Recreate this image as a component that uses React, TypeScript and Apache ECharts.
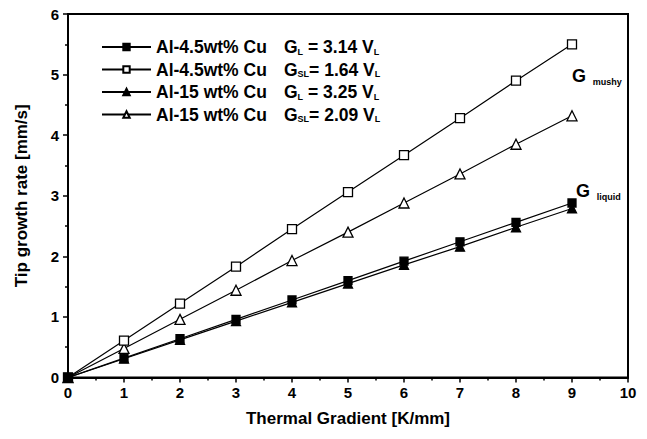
import React, { useEffect, useRef } from "react";
import * as echarts from "echarts";

const xValues = [0, 1, 2, 3, 4, 5, 6, 7, 8, 9];
const alloy45FilledSq = [0, 0.32, 0.64, 0.96, 1.28, 1.6, 1.92, 2.24, 2.56, 2.88];
const alloy45OpenSq = [0, 0.61, 1.22, 1.83, 2.45, 3.06, 3.67, 4.28, 4.9, 5.5];
const alloy15FilledTri = [0, 0.31, 0.62, 0.93, 1.24, 1.55, 1.86, 2.16, 2.48, 2.79];
const alloy15OpenTri = [0, 0.48, 0.96, 1.44, 1.93, 2.4, 2.88, 3.36, 3.85, 4.32];

const seriesNames = ["s1", "s2", "s3", "s4"];
const alloyLabels = ["Al-4.5wt% Cu", "Al-4.5wt% Cu", "Al-15 wt% Cu", "Al-15 wt% Cu"];
const gradSubs = ["L", "SL", "L", "SL"];
const coefLabels = [" = 3.14 V", "= 1.64 V", " = 3.25 V", "= 2.09 V"];

const xAxisTitle = "Thermal Gradient [K/mm]";
const yAxisTitle = "Tip growth rate [mm/s]";

const FONT = "'Liberation Sans', Arial, sans-serif";

export default function App() {
  const ref = useRef<HTMLDivElement>(null);
  useEffect(() => {
    document.body.style.margin = "0";
    const chart = echarts.init(ref.current!, null, { renderer: "svg" });
    const mk = (i: number, data: number[], symbol: string, filled: boolean, size: number) => ({
      name: seriesNames[i],
      type: "line",
      data: xValues.map((x, k) => [x, data[k]]),
      symbol,
      symbolSize: size,
      showAllSymbol: true,
      z: 10 - i,
      lineStyle: { color: "#000", width: 1.2 },
      itemStyle: { color: filled ? "#000" : "#fff", borderColor: "#000", borderWidth: 1.3 },
    });
    const sub = { fontFamily: FONT, fontWeight: "bold", fontSize: 9, color: "#000", lineHeight: 20, padding: [9, 0, 0, 0] };
    chart.setOption({
      animation: false,
      backgroundColor: "#fff",
      textStyle: { fontFamily: FONT },
      grid: { left: 68, right: 19, top: 14, bottom: 61.5, show: true, borderColor: "#000", borderWidth: 2, backgroundColor: "transparent" },
      legend: {
        orient: "vertical",
        left: 96,
        top: 33,
        itemWidth: 49,
        itemHeight: 8,
        itemGap: 4.5,
        data: seriesNames,
        formatter: (name: string) => {
          const i = seriesNames.indexOf(name);
          return `{a|${alloyLabels[i]}}{g|G}{s|${gradSubs[i]}}{g|${coefLabels[i]}}{s|L}`;
        },
        textStyle: {
          fontFamily: FONT,
          fontWeight: "bold",
          fontSize: 17.5,
          color: "#000",
          rich: {
            a: { fontFamily: FONT, fontWeight: "bold", fontSize: 17.5, color: "#000", width: 128, lineHeight: 20 },
            g: { fontFamily: FONT, fontWeight: "bold", fontSize: 17.5, color: "#000", lineHeight: 20 },
            s: sub,
          },
        },
      },
      xAxis: {
        type: "value",
        min: 0,
        max: 10,
        interval: 1,
        name: xAxisTitle,
        nameLocation: "middle",
        nameGap: 32,
        nameTextStyle: { fontFamily: FONT, fontWeight: "bold", fontSize: 17, color: "#000" },
        axisLine: { lineStyle: { color: "#000", width: 2 } },
        axisTick: { inside: false, length: 5, lineStyle: { color: "#000", width: 1.5 } },
        minorTick: { show: true, splitNumber: 2, length: 3, lineStyle: { color: "#000", width: 1.5 } },
        splitLine: { show: false },
        axisLabel: { fontFamily: FONT, fontWeight: "bold", fontSize: 15, color: "#000", margin: 7 },
      },
      yAxis: {
        type: "value",
        min: 0,
        max: 6,
        interval: 1,
        name: yAxisTitle,
        nameLocation: "middle",
        nameGap: 38,
        nameTextStyle: { fontFamily: FONT, fontWeight: "bold", fontSize: 17, color: "#000" },
        axisLine: { lineStyle: { color: "#000", width: 2 } },
        axisTick: { inside: false, length: 5, lineStyle: { color: "#000", width: 1.5 } },
        minorTick: { show: true, splitNumber: 2, length: 3, lineStyle: { color: "#000", width: 1.5 } },
        splitLine: { show: false },
        axisLabel: { fontFamily: FONT, fontWeight: "bold", fontSize: 15, color: "#000", margin: 9 },
      },
      graphic: [
        {
          type: "text",
          left: 572,
          top: 65,
          style: {
            text: "{g|G}  {s|mushy}",
            rich: {
              g: { fontFamily: FONT, fontWeight: "bold", fontSize: 18, fill: "#000", lineHeight: 20 },
              s: { fontFamily: FONT, fontWeight: "bold", fontSize: 9, fill: "#000", lineHeight: 20, padding: [12, 0, 0, 0] },
            },
          },
        },
        {
          type: "text",
          left: 576,
          top: 180,
          style: {
            text: "{g|G}  {s|liquid}",
            rich: {
              g: { fontFamily: FONT, fontWeight: "bold", fontSize: 18, fill: "#000", lineHeight: 20 },
              s: { fontFamily: FONT, fontWeight: "bold", fontSize: 9, fill: "#000", lineHeight: 20, padding: [12, 0, 0, 0] },
            },
          },
        },
      ],
      series: [
        mk(0, alloy45FilledSq, "rect", true, 8),
        mk(1, alloy45OpenSq, "rect", false, 9),
        mk(2, alloy15FilledTri, "triangle", true, 9),
        mk(3, alloy15OpenTri, "triangle", false, 10),
      ],
    });
    return () => chart.dispose();
  }, []);
  return <div ref={ref} style={{ width: 647, height: 439 }} />;
}
